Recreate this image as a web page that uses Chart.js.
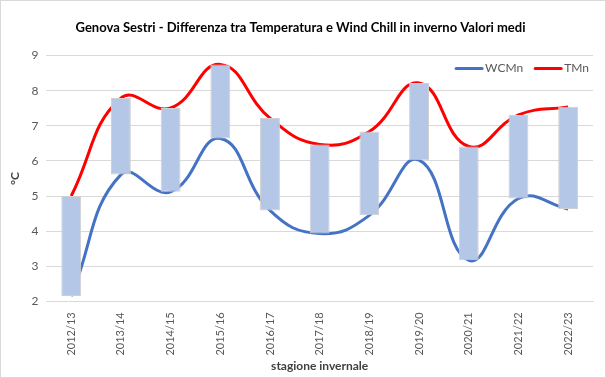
<!DOCTYPE html>
<html>
<head>
<meta charset="utf-8">
<script src="https://cdn.jsdelivr.net/npm/chart.js@4"></script>
<style>
  html, body { margin: 0; padding: 0; background: #fff; }
  #wrap { width: 606px; height: 378px; box-sizing: border-box; border: 1px solid #d9d9d9; }
  canvas { display: block; }
</style>
</head>
<body>
<div id="wrap"><canvas id="chart" width="604" height="376"></canvas></div>
<script>
// stagioni invernali
const seasons = ['2012/13', '2013/14', '2014/15', '2015/16', '2016/17', '2017/18',
                 '2018/19', '2019/20', '2020/21', '2021/22', '2022/23'];
// wind chill medio
const wcmn = [2.15, 5.61, 5.12, 6.64, 4.59, 3.93, 4.45, 6.02, 3.17, 4.93, 4.63];
// temperatura media
const tmn = [5.0, 7.79, 7.51, 8.75, 7.22, 6.47, 6.84, 8.22, 6.41, 7.31, 7.54];
const yTicks = [2, 3, 4, 5, 6, 7, 8, 9];

const font = "Lato, 'Open Sans', sans-serif";

const ranges = seasons.map((s, i) => [wcmn[i], tmn[i]]);

// legenda dentro l'area del grafico, in alto a destra
const insideLegend = {
    id: 'insideLegend',
    afterDraw(chart) {
        const c = chart.ctx;
        const area = chart.chartArea;
        const items = chart.data.datasets.filter(d => d.type === 'line');
        c.save();
        c.font = '12px ' + font;
        c.textBaseline = 'middle';
        let x = area.right - 4;
        const y = area.top + 13;
        for (let i = items.length - 1; i >= 0; i--) {
            const d = items[i];
            const w = c.measureText(d.label).width;
            x -= w;
            c.fillStyle = '#595959';
            c.fillText(d.label, x, y);
            x -= 29;
            c.strokeStyle = d.borderColor;
            c.lineWidth = 3;
            c.lineCap = 'round';
            c.beginPath();
            c.moveTo(x, y);
            c.lineTo(x + 26, y);
            c.stroke();
            x -= 12;
        }
        c.restore();
    }
};

const ctx = document.getElementById('chart').getContext('2d');
const chart = new Chart(ctx, {
    type: 'bar',
    data: {
        labels: seasons,
        datasets: [
            {
                label: 'diff',
                data: ranges,
                backgroundColor: '#b4c7e7',
                borderColor: '#d0d0d0',
                borderWidth: 1,
                borderSkipped: false,
                barPercentage: 0.4,
                categoryPercentage: 1,
                order: 0
            },
            {
                type: 'line',
                label: 'WCMn',
                data: wcmn,
                borderColor: '#4472c4',
                backgroundColor: '#4472c4',
                borderWidth: 3,
                pointRadius: 0,
                tension: 0.45,
                fill: false,
                order: 1
            },
            {
                type: 'line',
                label: 'TMn',
                data: tmn,
                borderColor: '#ff0000',
                backgroundColor: '#ff0000',
                borderWidth: 3,
                pointRadius: 0,
                tension: 0.45,
                fill: false,
                order: 1
            }
        ]
    },
    plugins: [insideLegend],
    options: {
        responsive: false,
        animation: false,
        layout: { padding: { left: 7, right: 12, top: 4, bottom: 4 } },
        plugins: {
            title: {
                display: true,
                text: 'Genova Sestri - Differenza tra Temperatura e Wind Chill in inverno Valori medi',
                color: '#000',
                font: { family: font, size: 13, weight: 'bold' },
                padding: { top: 15, bottom: 20 }
            },
            legend: { display: false },
            tooltip: { enabled: false }
        },
        scales: {
            x: {
                offset: true,
                grid: { display: false },
                border: { color: '#d9d9d9' },
                ticks: {
                    color: '#595959',
                    font: { family: font, size: 11 },
                    maxRotation: 90,
                    minRotation: 90,
                    padding: 3
                },
                title: {
                    display: true,
                    text: 'stagione invernale',
                    color: '#404040',
                    font: { family: font, size: 12, weight: 'bold' },
                    padding: { top: 0, bottom: 0 }
                }
            },
            y: {
                min: yTicks[0],
                max: yTicks[yTicks.length - 1],
                afterBuildTicks: axis => { axis.ticks = yTicks.map(v => ({ value: v })); },
                grid: { color: '#d9d9d9', drawTicks: false },
                border: { display: false },
                ticks: {
                    color: '#595959',
                    font: { family: font, size: 12 },
                    padding: 8
                },
                title: {
                    display: true,
                    text: '°C',
                    color: '#404040',
                    font: { family: font, size: 12, weight: 'bold' },
                    padding: { top: 0, bottom: 1 }
                }
            }
        }
    }
});
</script>
</body>
</html>
